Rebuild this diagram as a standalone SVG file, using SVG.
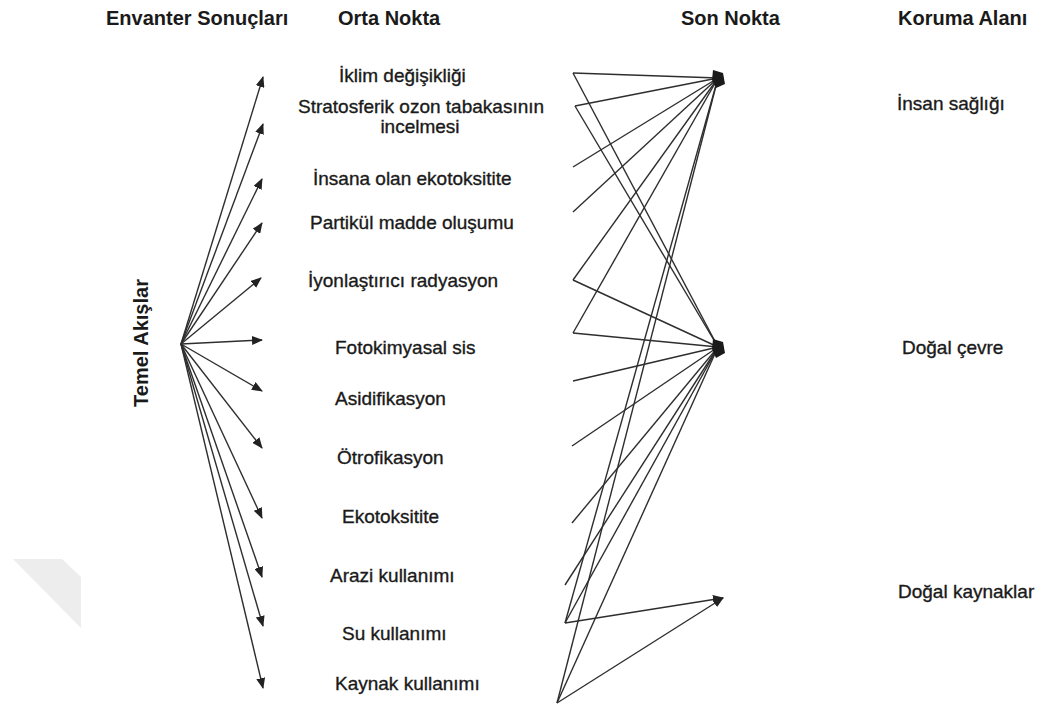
<svg xmlns="http://www.w3.org/2000/svg" width="1038" height="711" viewBox="0 0 1038 711">
<defs>
<marker id="ah" markerUnits="userSpaceOnUse" markerWidth="11" markerHeight="9" refX="10" refY="4.5" orient="auto">
<path d="M0,0 L11,4.5 L0,9 z" fill="#222"/>
</marker>
<style>
.hd{font-family:"Liberation Sans",Arial,sans-serif;font-weight:bold;font-size:20px;fill:#1a1a1a}
.lb{font-family:"Liberation Sans",Arial,sans-serif;font-size:19px;fill:#1a1a1a;stroke:#1a1a1a;stroke-width:0.35}
.ln{stroke:#2e2e2e;stroke-width:1.4;fill:none}
.ar{stroke:#2e2e2e;stroke-width:1.4;fill:none;marker-end:url(#ah)}
.blob{fill:#1a1a1a}
</style>
</defs>
<rect width="1038" height="711" fill="#ffffff"/>
<polygon points="13,559 62,559 81,577 81,628" fill="#ededed"/>

<g id="headers">
<text class="hd" x="106" y="25">Envanter Sonuçları</text>
<text class="hd" x="338" y="25">Orta Nokta</text>
<text class="hd" x="681" y="25">Son Nokta</text>
<text class="hd" x="898" y="25">Koruma Alanı</text>
</g>

<g id="temel-akislar">
<text class="hd" transform="translate(148,343) rotate(-90)" text-anchor="middle">Temel Akışlar</text>
</g>

<g id="connectors">
<g id="left-fan">
<line class="ar" x1="181" y1="344" x2="263" y2="77"/>
<line class="ar" x1="181" y1="344" x2="263" y2="124"/>
<line class="ar" x1="181" y1="344" x2="262" y2="179"/>
<line class="ar" x1="181" y1="344" x2="262" y2="223"/>
<line class="ar" x1="181" y1="344" x2="261" y2="278"/>
<line class="ar" x1="181" y1="344" x2="262" y2="340"/>
<line class="ar" x1="181" y1="344" x2="262" y2="391"/>
<line class="ar" x1="181" y1="344" x2="262" y2="448"/>
<line class="ar" x1="181" y1="344" x2="262" y2="518"/>
<line class="ar" x1="181" y1="344" x2="262" y2="577"/>
<line class="ar" x1="181" y1="344" x2="263" y2="626"/>
<line class="ar" x1="181" y1="344" x2="263" y2="688"/>
</g>
<g id="to-insan-sagligi">
<line class="ln" x1="573" y1="73" x2="718" y2="78"/>
<line class="ln" x1="575" y1="106" x2="718" y2="78"/>
<line class="ln" x1="573" y1="167" x2="718" y2="78"/>
<line class="ln" x1="573" y1="212" x2="718" y2="78"/>
<line class="ln" x1="573" y1="280" x2="718" y2="78"/>
<line class="ln" x1="573" y1="333" x2="718" y2="78"/>
<line class="ln" x1="565" y1="623" x2="718" y2="78"/>
<line class="ln" x1="557" y1="703" x2="718" y2="78"/>
</g>
<g id="to-dogal-cevre">
<line class="ln" x1="573" y1="73" x2="718" y2="347"/>
<line class="ln" x1="575" y1="106" x2="718" y2="347"/>
<line class="ln" x1="573" y1="280" x2="718" y2="347"/>
<line class="ln" x1="573" y1="333" x2="718" y2="347"/>
<line class="ln" x1="573" y1="381" x2="718" y2="347"/>
<line class="ln" x1="572" y1="446" x2="718" y2="347"/>
<line class="ln" x1="572" y1="523" x2="718" y2="347"/>
<line class="ln" x1="565" y1="585" x2="718" y2="347"/>
<line class="ln" x1="565" y1="623" x2="718" y2="347"/>
<line class="ln" x1="557" y1="703" x2="718" y2="347"/>
</g>
<g id="to-dogal-kaynaklar">
<line class="ar" x1="565" y1="623" x2="723" y2="598"/>
<line class="ar" x1="557" y1="703" x2="723" y2="598"/>
</g>
</g>

<g id="mid-iklim"><text class="lb" x="339" y="82">İklim değişikliği</text></g>
<g id="mid-ozon"><text class="lb" x="298" y="113">Stratosferik ozon tabakasının</text><text class="lb" x="420" y="133" text-anchor="middle">incelmesi</text></g>
<g id="mid-insana"><text class="lb" x="313" y="185">İnsana olan ekotoksitite</text></g>
<g id="mid-partikul"><text class="lb" x="310" y="229">Partikül madde oluşumu</text></g>
<g id="mid-iyon"><text class="lb" x="308" y="287">İyonlaştırıcı radyasyon</text></g>
<g id="mid-foto"><text class="lb" x="335" y="354">Fotokimyasal sis</text></g>
<g id="mid-asid"><text class="lb" x="335" y="405">Asidifikasyon</text></g>
<g id="mid-otro"><text class="lb" x="337" y="464">Ötrofikasyon</text></g>
<g id="mid-eko"><text class="lb" x="342" y="523">Ekotoksitite</text></g>
<g id="mid-arazi"><text class="lb" x="330" y="582">Arazi kullanımı</text></g>
<g id="mid-su"><text class="lb" x="342" y="640">Su kullanımı</text></g>
<g id="mid-kaynak"><text class="lb" x="335" y="690">Kaynak kullanımı</text></g>

<g id="end-insan"><polygon class="blob" points="713,70 723,73 725,84 716,88 712,80"/></g>
<g id="end-cevre"><polygon class="blob" points="713,339 723,342 725,353 716,358 712,349"/></g>

<g id="area-insan"><text class="lb" x="897" y="110">İnsan sağlığı</text></g>
<g id="area-cevre"><text class="lb" x="902" y="354">Doğal çevre</text></g>
<g id="area-kaynak"><text class="lb" x="898" y="598">Doğal kaynaklar</text></g>
</svg>
